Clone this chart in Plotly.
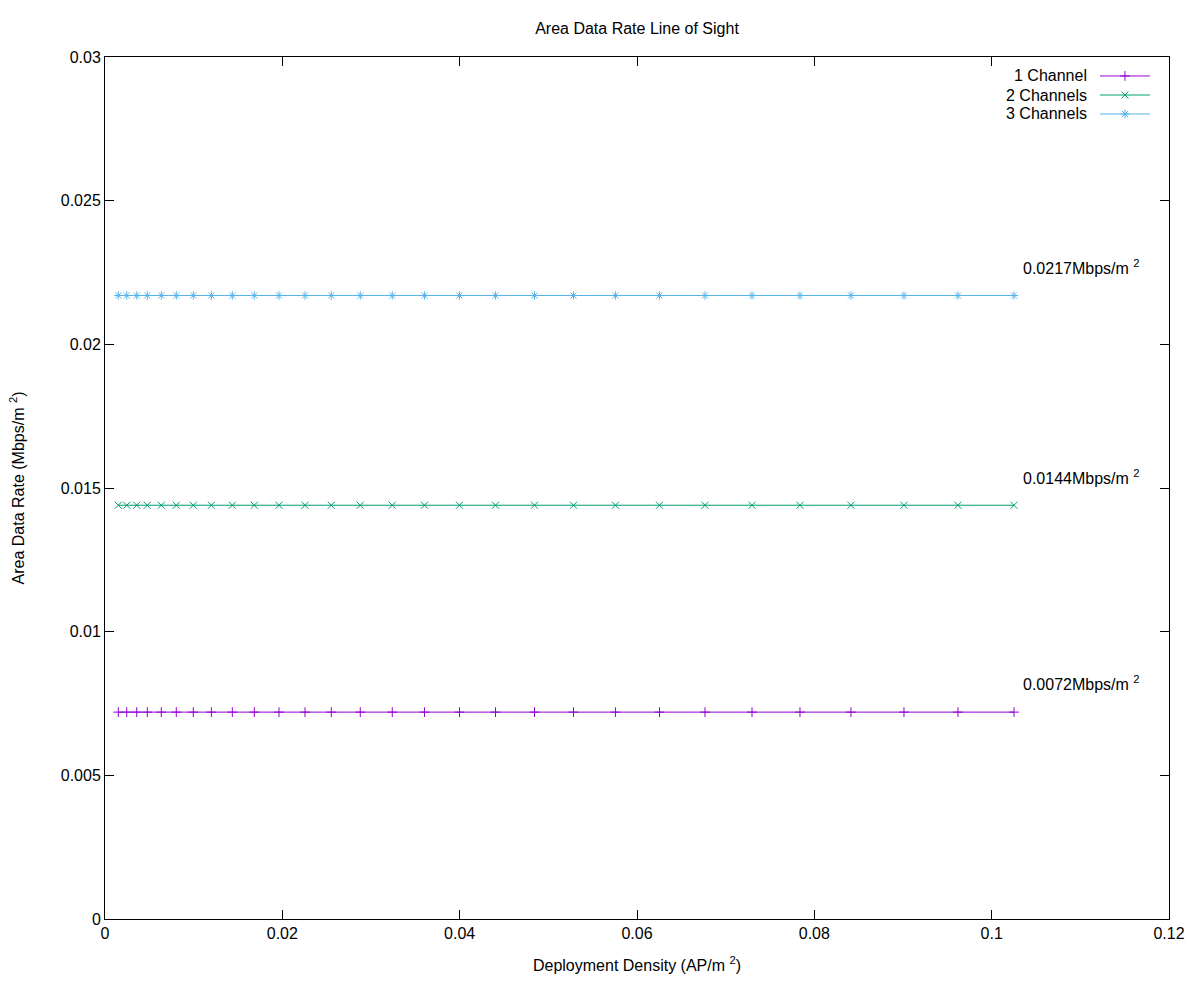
import plotly.graph_objects as go

# Data
density = [0.0015, 0.00245, 0.00358, 0.00477, 0.00635, 0.00804, 0.00996, 0.0120,
           0.01436, 0.01684, 0.01962, 0.02256, 0.02552, 0.02879, 0.0324, 0.03603,
           0.03998, 0.04404, 0.04844, 0.05284, 0.05757, 0.06254, 0.06767, 0.07297,
           0.07838, 0.08413, 0.09011, 0.0962, 0.10252]
series_names = ["1 Channel", "2 Channels", "3 Channels"]
series_values = [0.0072, 0.0144, 0.0217]
sup = " <sup>2</sup>"
series_labels = ["0.0072Mbps/m" + sup, "0.0144Mbps/m" + sup, "0.0217Mbps/m" + sup]
colors = ["#9400d3", "#009e73", "#56b4e9"]
symbols = ["cross-thin", "x-thin", "asterisk-open"]
x_ticks = [0, 0.02, 0.04, 0.06, 0.08, 0.1, 0.12]
x_ticktext = ["0", "0.02", "0.04", "0.06", "0.08", "0.1", "0.12"]
y_ticks = [0, 0.005, 0.01, 0.015, 0.02, 0.025, 0.03]
y_ticktext = ["0", "0.005", "0.01", "0.015", "0.02", "0.025", "0.03"]

FONT = "Liberation Sans"
FS = 16

fig = go.Figure()
for name, val, col, sym in zip(series_names, series_values, colors, symbols):
    fig.add_trace(go.Scatter(
        x=density, y=[val] * len(density), mode="lines+markers", name=name,
        line=dict(color=col, width=1),
        marker=dict(symbol=sym, size=7, color=col, line=dict(color=col, width=1)),
        showlegend=False))

annotations = []
for val, lab in zip(series_values, series_labels):
    annotations.append(dict(x=density[-1] + 0.0008, y=val + 0.001, xref="x", yref="y",
                            text=lab, showarrow=False, xanchor="left", yanchor="middle",
                            font=dict(family=FONT, size=FS, color="black")))

# Custom gnuplot-style legend (text left of the sample)
leg_y = [0.978, 0.9559, 0.9339]
shapes = []
for name, col, sym, ly in zip(series_names, colors, symbols, leg_y):
    annotations.append(dict(x=0.9248, y=ly, xref="paper", yref="paper", text=name,
                            showarrow=False, xanchor="right", yanchor="middle",
                            font=dict(family=FONT, size=FS, color="black")))
    shapes.append(dict(type="line", xref="paper", yref="paper", x0=0.9352, x1=0.9821,
                       y0=ly, y1=ly, line=dict(color=col, width=1)))
    fig.add_trace(go.Scatter(x=[0.9586], y=[ly], xaxis="x2", yaxis="y2", mode="markers",
                             marker=dict(symbol=sym, size=7, color=col, line=dict(color=col, width=1)),
                             showlegend=False, hoverinfo="skip"))

axis_common = dict(showline=True, linecolor="black", linewidth=1, mirror="ticks",
                   ticks="inside", ticklen=9, tickcolor="black", showgrid=False,
                   zeroline=False, tickfont=dict(family=FONT, size=FS, color="black"))

fig.update_layout(
    width=1200, height=1000,
    paper_bgcolor="white", plot_bgcolor="white",
    font=dict(family=FONT, size=FS, color="black"),
    margin=dict(l=105, r=31, t=57, b=81),
    title=dict(text="Area Data Rate Line of Sight", xref="paper", x=0.5, xanchor="center",
               y=0.972, yanchor="middle", font=dict(family=FONT, size=FS, color="black")),
    xaxis=dict(range=[0, 0.12], tickvals=x_ticks, ticktext=x_ticktext,
               title=dict(text="Deployment Density (AP/m" + sup + ")", standoff=18,
                          font=dict(family=FONT, size=FS, color="black")), **axis_common),
    yaxis=dict(range=[0, 0.03], tickvals=y_ticks, ticktext=y_ticktext,
               title=dict(text="Area Data Rate (Mbps/m" + sup + ")", standoff=32,
                          font=dict(family=FONT, size=FS, color="black")), **axis_common),
    xaxis2=dict(range=[0, 1], overlaying="x", visible=False),
    yaxis2=dict(range=[0, 1], overlaying="y", visible=False),
    annotations=annotations, shapes=shapes,
)

fig.write_html("out.html")
